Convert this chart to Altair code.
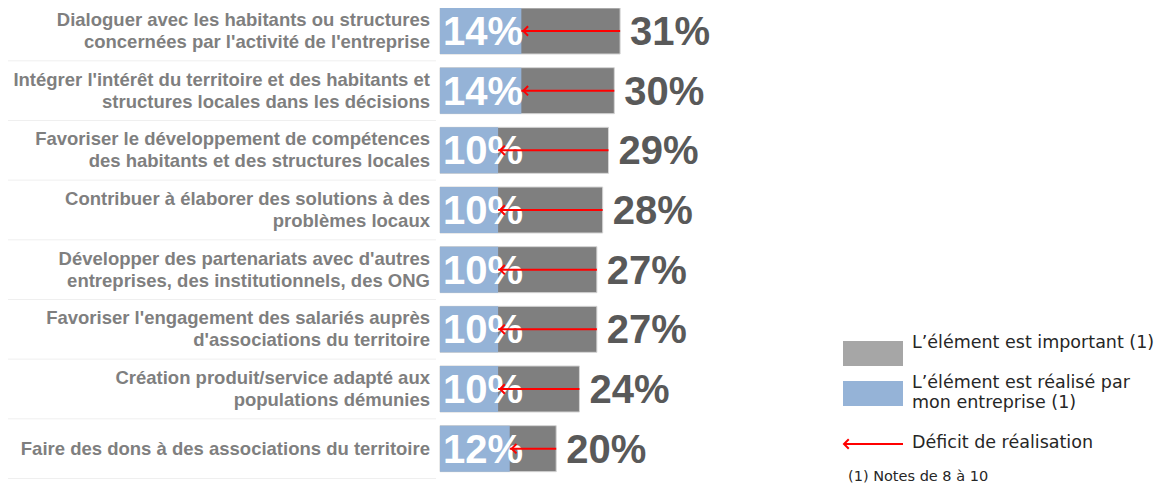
import altair as alt
import pandas as pd

categories = [
    "Dialoguer avec les habitants ou structures\nconcernées par l'activité de l'entreprise",
    "Intégrer l'intérêt du territoire et des habitants et\nstructures locales dans les décisions",
    "Favoriser le développement de compétences\ndes habitants et des structures  locales",
    "Contribuer à élaborer des solutions à des\nproblèmes locaux",
    "Développer des partenariats avec d'autres\nentreprises, des institutionnels, des ONG",
    "Favoriser l'engagement des salariés auprès\nd'associations du territoire",
    "Création produit/service adapté aux\npopulations démunies",
    "Faire des dons à des associations du territoire",
]
important = [31, 30, 29, 28, 27, 27, 24, 20]
realise = [14, 14, 10, 10, 10, 10, 10, 12]

df = pd.DataFrame({
    "cat": categories,
    "important": important,
    "realise": realise,
    "zero": [0] * len(categories),
})
df["imp_lbl"] = df["important"].astype(str) + "%"
df["rea_lbl"] = df["realise"].astype(str) + "%"

W, H = 1152, 478
xscale = alt.Scale(domain=[-74.35, 123.92], nice=False, zero=False)
yscale = alt.Scale(domain=categories, range=[-6.83, 470.5], paddingInner=0.229, paddingOuter=0.1145)

X = lambda f: alt.X(f, type="quantitative", scale=xscale, axis=None)
Y = alt.Y("cat:N", scale=yscale, axis=None, sort=None)

base = alt.Chart(df)

sep = base.mark_rule(color="#efefef", strokeWidth=1, yOffset=29.8).encode(
    y=Y, x=alt.value(0), x2=alt.value(428)
)

gray_bar = base.mark_bar(color="#7f7f7f", stroke="#d4d4d4", strokeWidth=1).encode(
    y=Y, x=X("zero"), x2="important"
)
blue_bar = base.mark_bar(color="#95b3d7").encode(
    y=Y, x=X("zero"), x2="realise"
)
blue_lbl = base.mark_text(
    align="left", baseline="middle", dx=3, dy=2, font="Liberation Sans",
    fontWeight="bold", fontSize=40, color="white"
).encode(y=Y, x=X("zero"), text="rea_lbl:N")
gray_lbl = base.mark_text(
    align="left", baseline="middle", dx=10, dy=2, font="Liberation Sans",
    fontWeight="bold", fontSize=40, color="#595959"
).encode(y=Y, x=X("important"), text="imp_lbl:N")

arrow_line = base.mark_rule(color="#ff0000", strokeWidth=2).encode(
    y=Y, x=X("important"), x2="realise"
)
arrow_head = base.mark_point(
    shape="M1,-1L0,0L1,1", filled=False, stroke="#ff0000", strokeWidth=2, size=90, opacity=1
).encode(y=Y, x=X("realise"), xOffset=alt.value(2))

lbl_style = dict(align="right", baseline="middle", lineBreak="\n", lineHeight=22,
                 font="Liberation Sans", fontWeight="bold", fontSize=18.5, color="#7f7f7f")
cat_lbl_multi = base.transform_filter("indexof(datum.cat, '\\n') >= 0").mark_text(
    dy=-11, **lbl_style).encode(y=Y, x=alt.value(422), text="cat:N")
cat_lbl_single = base.transform_filter("indexof(datum.cat, '\\n') < 0").mark_text(
    dy=0, **lbl_style).encode(y=Y, x=alt.value(422), text="cat:N")

# legend
leg = alt.Chart(pd.DataFrame({"k": [0]}))
leg_gray = leg.mark_rect(color="#a6a6a6").encode(
    x=alt.value(835), x2=alt.value(895), y=alt.value(333), y2=alt.value(358))
leg_blue = leg.mark_rect(color="#95b3d7").encode(
    x=alt.value(835), x2=alt.value(895), y=alt.value(373), y2=alt.value(398))
leg_arrow = leg.mark_rule(color="#ff0000", strokeWidth=2).encode(
    x=alt.value(836), x2=alt.value(895), y=alt.value(436))
leg_head = leg.mark_point(
    shape="M1,-1L0,0L1,1", filled=False, stroke="#ff0000", strokeWidth=2, size=90, opacity=1
).encode(x=alt.value(836), y=alt.value(436))
tfont = dict(font="DejaVu Sans", fontSize=17.5, color="#262626", align="left", baseline="middle")
leg_t1 = leg.mark_text(text="L’élément est important (1)", **tfont).encode(
    x=alt.value(904), y=alt.value(335))
leg_t2a = leg.mark_text(text="L’élément est réalisé par", **tfont).encode(
    x=alt.value(904), y=alt.value(375))
leg_t2b = leg.mark_text(text="mon entreprise (1)", **tfont).encode(
    x=alt.value(904), y=alt.value(395))
leg_t3 = leg.mark_text(text="Déficit de réalisation", **tfont).encode(
    x=alt.value(904), y=alt.value(435))
leg_t4 = leg.mark_text(text="(1) Notes de 8 à 10", font="DejaVu Sans", fontSize=14.5,
                       color="#262626", align="left", baseline="middle").encode(
    x=alt.value(840), y=alt.value(469))

chart = alt.layer(
    sep, gray_bar, blue_bar, blue_lbl, gray_lbl, arrow_line, arrow_head,
    cat_lbl_multi, cat_lbl_single,
    leg_gray, leg_blue, leg_arrow, leg_head, leg_t1, leg_t2a, leg_t2b, leg_t3, leg_t4,
).properties(
    width=W, height=H, autosize=alt.AutoSizeParams(type="none"), padding=0,
    background="white"
).configure_view(stroke=None)

chart.save("out.html", embed_options={"renderer": "svg", "actions": False})
